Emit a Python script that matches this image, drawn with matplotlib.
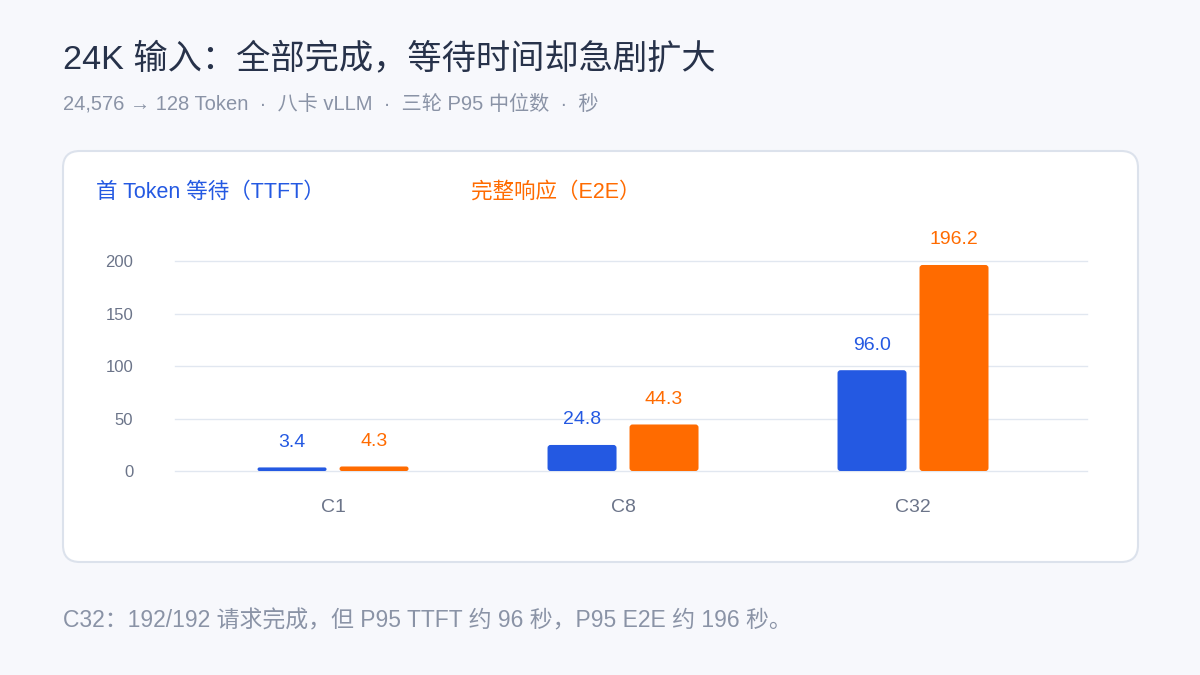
import matplotlib.pyplot as plt
from matplotlib.patches import FancyBboxPatch

plt.rcParams['font.family'] = ['Liberation Sans', 'Noto Sans CJK SC', 'DejaVu Sans']

# Data
categories = ['C1', 'C8', 'C32']
ttft = [3.4, 24.8, 96.0]
e2e = [4.3, 44.3, 196.2]
yticks = [0, 50, 100, 150, 200]

title = '24K 输入：全部完成，等待时间却急剧扩大'
subtitle = '24,576 → 128 Token  ·  八卡 vLLM  ·  三轮 P95 中位数  ·  秒'
footer = 'C32：192/192 请求完成，但 P95 TTFT 约 96 秒，P95 E2E 约 196 秒。'
label_ttft = '首 Token 等待（TTFT）'
label_e2e = '完整响应（E2E）'

BLUE = '#2459e2'
ORANGE = '#ff6b00'
BG = '#f7f8fc'
GRID = '#e1e7f0'
TICK = '#6b7489'
SUB = '#8a93a6'

W, H = 1200, 675
fig = plt.figure(figsize=(12, 6.75), dpi=100, facecolor=BG)

# card
card = FancyBboxPatch((63 / W, 1 - 562 / H), (1138 - 63) / W, (562 - 151) / H,
                      boxstyle='round,pad=0,rounding_size=0.014',
                      mutation_aspect=W / H,
                      transform=fig.transFigure, facecolor='white',
                      edgecolor='#dce2ec', linewidth=1.5, zorder=-1)
fig.patches.append(card)

fig.text(63 / W, 1 - 59 / H, title, fontsize=24.7, color='#27324a', va='center')
fig.text(63 / W, 1 - 104 / H, subtitle, fontsize=14.5, color=SUB, va='center')
fig.text(63 / W, 1 - 621 / H, footer, fontsize=16.5, color=SUB, va='center')
fig.text(96 / W, 1 - 192 / H, label_ttft, fontsize=15.5, color=BLUE, va='center')
fig.text(471 / W, 1 - 192 / H, label_e2e, fontsize=15.5, color=ORANGE, va='center')

# axes: x from 175 to 1087 px, y from 471 (0) to 261 (200)
ax = fig.add_axes([175 / W, 1 - 471 / H, (1087 - 175) / W, (471 - 261) / H])
ax.set_zorder(1)
ax.set_facecolor('none')
ax.set_xlim(-0.545, 2.6)
ax.set_ylim(0, 200)

px_x = 1 / 290          # x data units per pixel
px_y = 200 / 210        # y data units per pixel
aspect = px_y / px_x
bw = 69 * px_x
off = 41 * px_x


def rounded_bar(x, h, color):
    r = min(3 * px_x, h / aspect / 2)
    p = FancyBboxPatch((x - bw / 2, 0), bw, h,
                       boxstyle=f'round,pad=0,rounding_size={r}',
                       mutation_aspect=aspect, facecolor=color,
                       edgecolor='none', zorder=3)
    ax.add_patch(p)


for i, (a, b) in enumerate(zip(ttft, e2e)):
    rounded_bar(i - off, a, BLUE)
    rounded_bar(i + off, b, ORANGE)
    ax.annotate(f'{a:.1f}', (i - off, a), xytext=(0, 18), textcoords='offset points',
                ha='center', va='center', fontsize=14, color=BLUE)
    ax.annotate(f'{b:.1f}', (i + off, b), xytext=(0, 18), textcoords='offset points',
                ha='center', va='center', fontsize=14, color=ORANGE)

ax.set_yticks(yticks)
ax.set_yticklabels([str(t) for t in yticks])
ax.set_xticks(range(len(categories)))
ax.set_xticklabels(categories)
for t in yticks:
    ax.axhline(t, color=GRID, linewidth=1, clip_on=False, zorder=0)
for s in ax.spines.values():
    s.set_visible(False)
ax.tick_params(axis='y', length=0, pad=30, labelsize=12, labelcolor=TICK)
ax.tick_params(axis='x', length=0, pad=20, labelsize=14, labelcolor=TICK)

fig.savefig('out.png', dpi=100, facecolor=BG)
